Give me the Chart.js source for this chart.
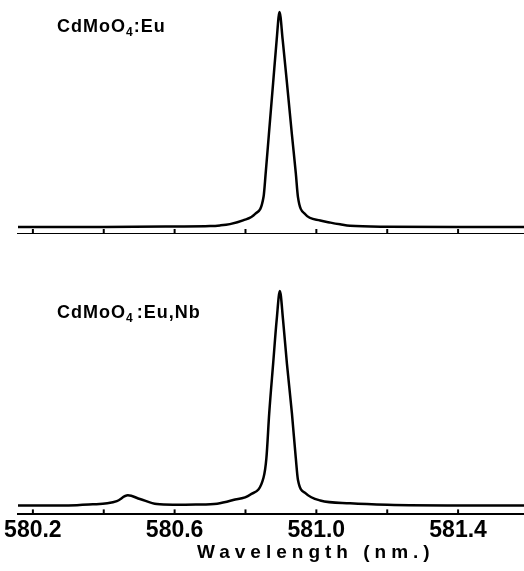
<!DOCTYPE html>
<html>
<head>
<meta charset="utf-8">
<script src="https://cdn.jsdelivr.net/npm/chart.js@4.4.0/dist/chart.umd.min.js"></script>
<style>
  body { margin: 0; background: #fff; width: 524px; height: 571px; overflow: hidden; position: relative; }
  .box { position: absolute; left: 0; width: 524px; }
  #top { top: 0; height: 234px; }
  #bot { top: 280px; height: 291px; }
  .lbl { position: absolute; left: 57px; font: bold 18px "Liberation Sans", Arial, sans-serif; letter-spacing: 1px; color: #000; }
  .lbl sub { font-size: 12px; vertical-align: -4px; }
  #xtitle { position: absolute; left: 197px; top: 541px; font: bold 19px "Liberation Sans", Arial, sans-serif; letter-spacing: 5px; color: #000; white-space: pre; }
</style>
</head>
<body>
<div class="box" id="top"><canvas id="c1"></canvas></div>
<div class="box" id="bot"><canvas id="c2"></canvas></div>
<div class="lbl" style="top:16px">CdMoO<sub>4</sub>:Eu</div>
<div class="lbl" style="top:302px">CdMoO<sub>4</sub><span style="margin-left:3px">:</span>Eu,Nb</div>
<div id="xtitle">Wavelength (nm.)</div>
<script>
// wavelength (nm) and relative intensity
const euWl = [580.158, 580.40, 580.60, 580.70, 580.728, 580.756, 580.793, 580.827, 580.851, 580.857, 580.866, 580.878, 580.888, 580.896,
  580.905, 580.917, 580.931, 580.942, 580.948, 580.968, 581.011, 581.04, 581.067, 581.095, 581.2, 581.4, 581.586]
const euInt = [0, 0, 0.002, 0.004, 0.007, 0.013, 0.03, 0.06, 0.14, 0.25, 0.43, 0.67, 0.87, 1.0,
  0.87, 0.67, 0.43, 0.25, 0.14, 0.06, 0.03, 0.02, 0.012, 0.005, 0.001, 0, 0]

const nbWl = [580.158, 580.30, 580.369, 580.41, 580.437, 580.468, 580.502, 580.55, 580.595, 580.66, 580.72, 580.765, 580.813,
  580.851, 580.859, 580.867, 580.878, 580.888, 580.897, 580.906, 580.917, 580.931, 580.942, 580.948, 580.97, 581.011,
  581.095, 581.2, 581.4, 581.586]
const nbInt = [0, 0, 0.005, 0.01, 0.02, 0.047, 0.03, 0.006, 0.003, 0.004, 0.008, 0.025, 0.05,
  0.13, 0.22, 0.43, 0.66, 0.865, 1.0, 0.865, 0.66, 0.43, 0.22, 0.12, 0.056, 0.023,
  0.01, 0.003, 0, 0]

const xMin = 580.158
const xMax = 581.586
const tickStep = 0.2

// tick marks point up from the axis line
const upTicks = {
  id: 'upTicks',
  afterDatasetsDraw(chart) {
    const ctx = chart.ctx
    const x = chart.scales.x
    const b = chart.chartArea.bottom
    ctx.save()
    ctx.strokeStyle = '#000'
    ctx.lineWidth = 2
    x.ticks.forEach(t => {
      const px = x.getPixelForValue(t.value)
      ctx.beginPath()
      ctx.moveTo(px, b)
      ctx.lineTo(px, b - 5)
      ctx.stroke()
    })
    ctx.restore()
  }
}

function makeChart(id, wl, val, yMin, showLabels, pad) {
  return new Chart(document.getElementById(id), {
    type: 'line',
    data: {
      datasets: [{
        data: wl.map((w, i) => ({ x: w, y: val[i] })),
        borderColor: '#000',
        borderWidth: 2.5,
        pointRadius: 0,
        cubicInterpolationMode: 'monotone',
        clip: false
      }]
    },
    options: {
      responsive: true,
      maintainAspectRatio: false,
      animation: false,
      layout: { padding: pad },
      plugins: { legend: { display: false }, tooltip: { enabled: false } },
      scales: {
        x: {
          type: 'linear',
          min: xMin,
          max: xMax,
          grid: { display: false, drawTicks: false },
          border: { display: true, color: '#000', width: 2 },
          ticks: {
            display: showLabels,
            stepSize: tickStep,
            includeBounds: false,
            padding: 2,
            color: '#000',
            maxRotation: 0,
            autoSkip: false,
            font: { family: 'Liberation Sans', size: 23, weight: 'bold' },
            callback: (v, i) => (i % 2 === 0 ? v.toFixed(1) : '')
          }
        },
        y: { display: false, min: yMin, max: 1 }
      }
    },
    plugins: [upTicks]
  })
}

makeChart('c1', euWl, euInt, -0.033, false, { left: 18, right: 0, top: 12, bottom: 0 })
makeChart('c2', nbWl, nbInt, -0.042, true, { left: 18, right: 0, top: 11, bottom: 25 })
</script>
</body>
</html>
